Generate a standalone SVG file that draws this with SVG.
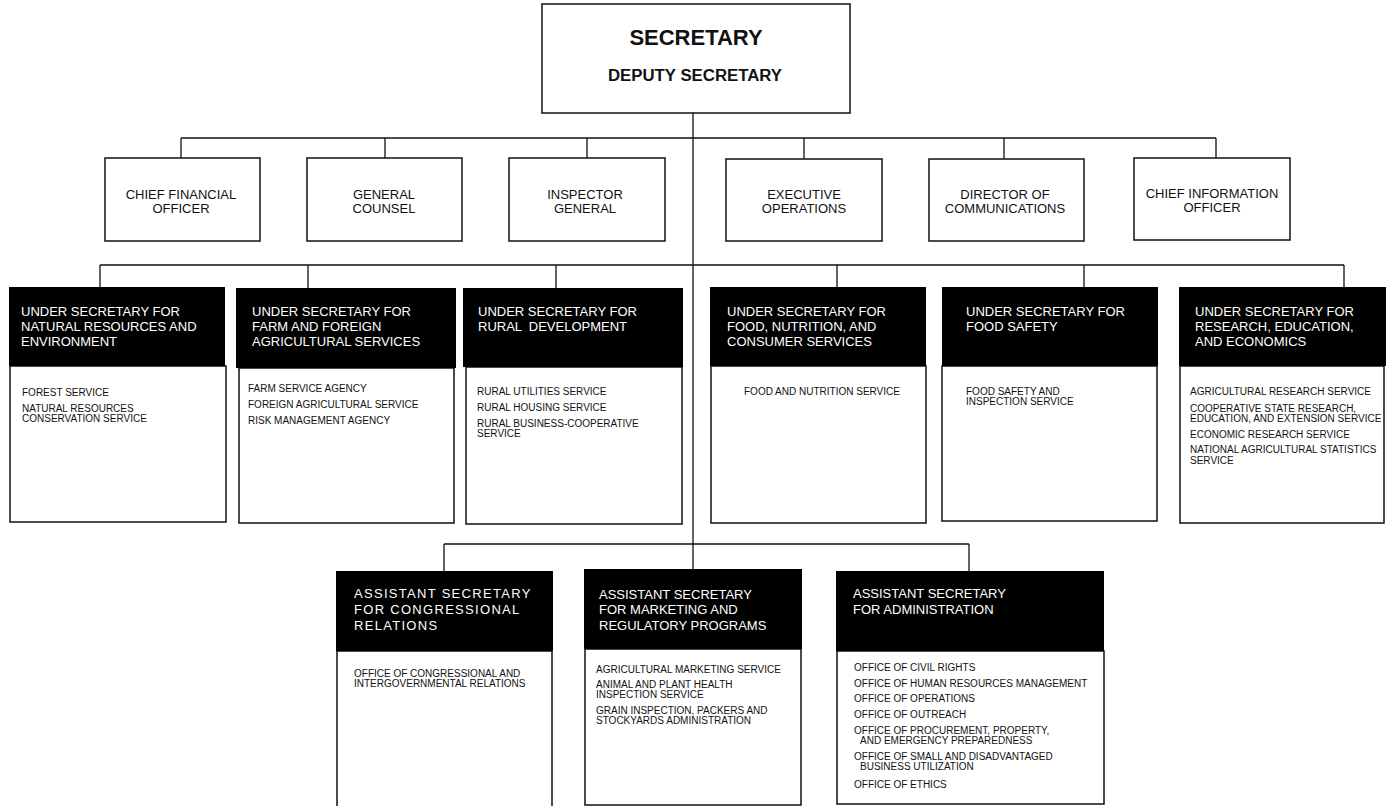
<svg xmlns="http://www.w3.org/2000/svg" width="1386" height="806" viewBox="0 0 1386 806">
<style>
text{font-family:"Liberation Sans",Arial,Helvetica,sans-serif;fill:#111}
.box{fill:#fff;stroke:#111;stroke-width:1.5}
.hdr{fill:#000}
.ln{fill:none;stroke:#111;stroke-width:1.3}
.staff{font-size:13px;text-anchor:middle}
.h{font-size:13px;fill:#fff}
.it{font-size:10px}
</style>
<rect width="1386" height="806" fill="#fff"/>
<g id="connectors">
<path class="ln" d="M693 113V570"/>
<path class="ln" d="M181 138H1216M181 138V158M385 138V158M587 138V158M804 138V159M1004 138V159M1216 138V158"/>
<path class="ln" d="M100 265H1344M100 265V287M308 265V288M556 265V288M837 265V287M1084 265V287M1344 265V287"/>
<path class="ln" d="M444 544H969M444 544V571M969 544V571"/>
</g>
<g id="secretary">
<rect class="box" x="542" y="4" width="308" height="109"/>
<text x="696" y="45" font-size="22" font-weight="bold" text-anchor="middle">SECRETARY</text>
<text x="695" y="81" font-size="16.8" font-weight="bold" text-anchor="middle">DEPUTY SECRETARY</text>
</g>
<g id="cfo">
<rect class="box" x="105" y="158" width="155" height="83"/>
<text class="staff" x="181" y="199">CHIEF FINANCIAL</text>
<text class="staff" x="181" y="213">OFFICER</text>
</g>
<g id="general-counsel">
<rect class="box" x="307" y="158" width="155" height="83"/>
<text class="staff" x="384" y="199">GENERAL</text>
<text class="staff" x="384" y="213">COUNSEL</text>
</g>
<g id="inspector-general">
<rect class="box" x="509" y="158" width="156" height="83"/>
<text class="staff" x="585" y="199">INSPECTOR</text>
<text class="staff" x="585" y="213">GENERAL</text>
</g>
<g id="executive-operations">
<rect class="box" x="726" y="159" width="156" height="82"/>
<text class="staff" x="804" y="199">EXECUTIVE</text>
<text class="staff" x="804" y="213">OPERATIONS</text>
</g>
<g id="director-communications">
<rect class="box" x="929" y="159" width="155" height="82"/>
<text class="staff" x="1005" y="199">DIRECTOR OF</text>
<text class="staff" x="1005" y="213">COMMUNICATIONS</text>
</g>
<g id="cio">
<rect class="box" x="1134" y="158" width="156" height="82"/>
<text class="staff" x="1212" y="198">CHIEF INFORMATION</text>
<text class="staff" x="1212" y="212">OFFICER</text>
</g>
<g id="us-nre">
<rect class="box" x="10" y="366" width="216" height="156"/>
<rect class="hdr" x="9" y="287" width="216" height="79"/>
<text class="h" x="21" y="316">UNDER SECRETARY FOR</text>
<text class="h" x="21" y="331">NATURAL RESOURCES AND</text>
<text class="h" x="21" y="346">ENVIRONMENT</text>
<text class="it" x="22" y="396">FOREST SERVICE</text>
<text class="it" x="22" y="412">NATURAL RESOURCES</text>
<text class="it" x="22" y="422">CONSERVATION SERVICE</text>
</g>
<g id="us-ffas">
<rect class="box" x="239" y="368" width="215" height="155"/>
<rect class="hdr" x="236" y="288" width="220" height="80"/>
<text class="h" x="252" y="316">UNDER SECRETARY FOR</text>
<text class="h" x="252" y="331">FARM AND FOREIGN</text>
<text class="h" x="252" y="346">AGRICULTURAL SERVICES</text>
<text class="it" x="248" y="392">FARM SERVICE AGENCY</text>
<text class="it" x="248" y="408">FOREIGN AGRICULTURAL SERVICE</text>
<text class="it" x="248" y="424">RISK MANAGEMENT AGENCY</text>
</g>
<g id="us-rd">
<rect class="box" x="466" y="367" width="216" height="157"/>
<rect class="hdr" x="463" y="288" width="220" height="79"/>
<text class="h" x="478" y="316">UNDER SECRETARY FOR</text>
<text class="h" x="478" y="331" xml:space="preserve">RURAL  DEVELOPMENT</text>
<text class="it" x="477" y="395">RURAL UTILITIES SERVICE</text>
<text class="it" x="477" y="411">RURAL HOUSING SERVICE</text>
<text class="it" x="477" y="427">RURAL BUSINESS-COOPERATIVE</text>
<text class="it" x="477" y="437">SERVICE</text>
</g>
<g id="us-fncs">
<rect class="box" x="711" y="366" width="215" height="157"/>
<rect class="hdr" x="710" y="287" width="216" height="79"/>
<text class="h" x="727" y="316">UNDER SECRETARY FOR</text>
<text class="h" x="727" y="331">FOOD, NUTRITION, AND</text>
<text class="h" x="727" y="346">CONSUMER SERVICES</text>
<text class="it" x="744" y="395">FOOD AND NUTRITION SERVICE</text>
</g>
<g id="us-fs">
<rect class="box" x="942" y="366" width="215" height="155"/>
<rect class="hdr" x="942" y="287" width="216" height="79"/>
<text class="h" x="966" y="316">UNDER SECRETARY FOR</text>
<text class="h" x="966" y="331">FOOD SAFETY</text>
<text class="it" x="966" y="395">FOOD SAFETY AND</text>
<text class="it" x="966" y="405">INSPECTION SERVICE</text>
</g>
<g id="us-ree">
<rect class="box" x="1180" y="366" width="204" height="157"/>
<rect class="hdr" x="1179" y="287" width="207" height="79"/>
<text class="h" x="1195" y="316">UNDER SECRETARY FOR</text>
<text class="h" x="1195" y="331">RESEARCH, EDUCATION,</text>
<text class="h" x="1195" y="346">AND ECONOMICS</text>
<text class="it" x="1190" y="395">AGRICULTURAL RESEARCH SERVICE</text>
<text class="it" x="1190" y="412">COOPERATIVE STATE RESEARCH,</text>
<text class="it" x="1190" y="422">EDUCATION, AND EXTENSION SERVICE</text>
<text class="it" x="1190" y="438">ECONOMIC RESEARCH SERVICE</text>
<text class="it" x="1190" y="453">NATIONAL AGRICULTURAL STATISTICS</text>
<text class="it" x="1190" y="464">SERVICE</text>
</g>
<g id="as-cr">
<rect class="box" x="337" y="651" width="215" height="158"/>
<rect class="hdr" x="336" y="571" width="217" height="80"/>
<text class="h" x="354" y="598" letter-spacing="1.3">ASSISTANT SECRETARY</text>
<text class="h" x="354" y="614" letter-spacing="1.3">FOR CONGRESSIONAL</text>
<text class="h" x="354" y="630" letter-spacing="1.3">RELATIONS</text>
<text class="it" x="354" y="677">OFFICE OF CONGRESSIONAL AND</text>
<text class="it" x="354" y="687">INTERGOVERNMENTAL RELATIONS</text>
</g>
<g id="as-mrp">
<rect class="box" x="585" y="649" width="216" height="156"/>
<rect class="hdr" x="584" y="569" width="218" height="80"/>
<text class="h" x="599" y="599">ASSISTANT SECRETARY</text>
<text class="h" x="599" y="614">FOR MARKETING AND</text>
<text class="h" x="599" y="630">REGULATORY PROGRAMS</text>
<text class="it" x="596" y="673">AGRICULTURAL MARKETING SERVICE</text>
<text class="it" x="596" y="688">ANIMAL AND PLANT HEALTH</text>
<text class="it" x="596" y="698">INSPECTION SERVICE</text>
<text class="it" x="596" y="714">GRAIN INSPECTION, PACKERS AND</text>
<text class="it" x="596" y="724">STOCKYARDS ADMINISTRATION</text>
</g>
<g id="as-admin">
<rect class="box" x="837" y="651" width="267" height="153"/>
<rect class="hdr" x="836" y="571" width="268" height="80"/>
<text class="h" x="853" y="598">ASSISTANT SECRETARY</text>
<text class="h" x="853" y="614">FOR ADMINISTRATION</text>
<text class="it" x="854" y="671">OFFICE OF CIVIL RIGHTS</text>
<text class="it" x="854" y="687">OFFICE OF HUMAN RESOURCES MANAGEMENT</text>
<text class="it" x="854" y="702">OFFICE OF OPERATIONS</text>
<text class="it" x="854" y="718">OFFICE OF OUTREACH</text>
<text class="it" x="854" y="734">OFFICE OF PROCUREMENT, PROPERTY,</text>
<text class="it" x="860" y="744">AND EMERGENCY PREPAREDNESS</text>
<text class="it" x="854" y="760">OFFICE OF SMALL AND DISADVANTAGED</text>
<text class="it" x="860" y="770">BUSINESS UTILIZATION</text>
<text class="it" x="854" y="788">OFFICE OF ETHICS</text>
</g>
</svg>
